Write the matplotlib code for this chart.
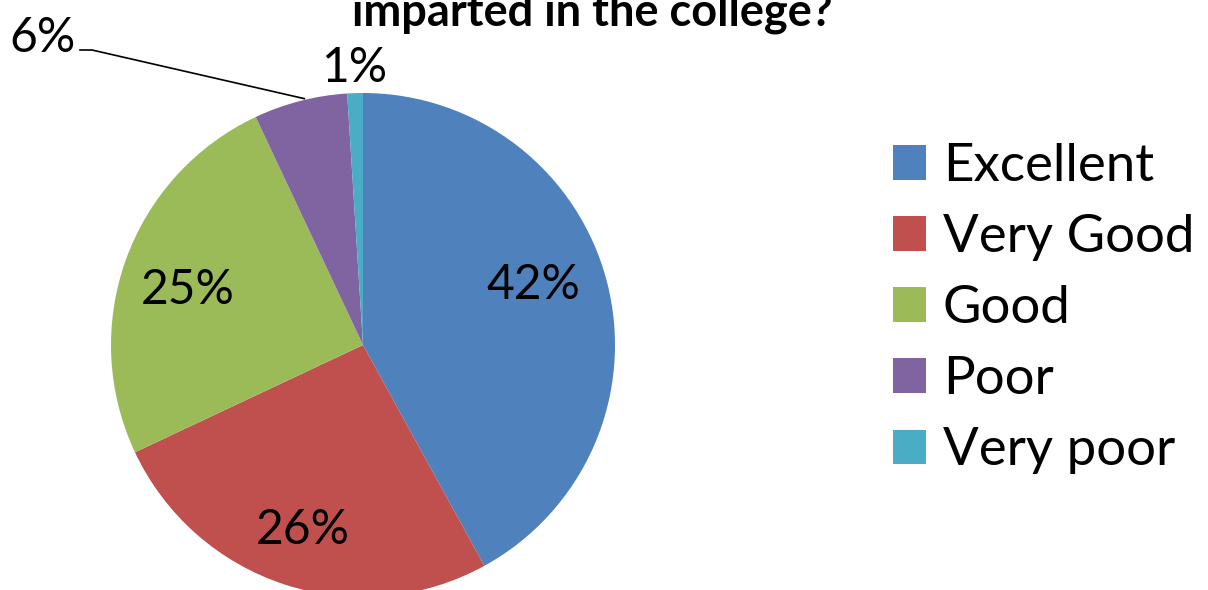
import numpy as np
import matplotlib
matplotlib.use("Agg")
import matplotlib.pyplot as plt
from matplotlib.patches import Patch

categories = ["Excellent", "Very Good", "Good", "Poor", "Very poor"]
shares = [42, 26, 25, 6, 1]
pct_labels = ["42%", "26%", "25%", "6%", "1%"]
colors = ["#4F81BD", "#C0504D", "#9BBB59", "#8064A2", "#4BACC6"]
title = "imparted in the college?"

plt.rcParams["font.family"] = ["Lato", "DejaVu Sans"]

W, H = 1208, 590
fig = plt.figure(figsize=(W / 100, H / 100), dpi=100)
ax = fig.add_axes([0, 0, 1, 1])

cx, cy, r = 363, H - 345, 252
wedges, _ = ax.pie(shares, colors=colors, startangle=90, counterclock=False,
                   center=(cx, cy), radius=r, frame=True,
                   wedgeprops=dict(linewidth=0))
ax.set_xlim(0, W)
ax.set_ylim(0, H)
ax.set_aspect("equal")
ax.axis("off")

# label placement: (radius factor, angle shift) per slice, Excel-like
label_pos = [(0.716, 5.0), (0.773, 0.0), (0.73, 2.4), None, (1.10, 0.0)]
cum = np.cumsum([0] + shares)
for i, txt in enumerate(pct_labels):
    mid = 90 - 360 * (cum[i] + cum[i + 1]) / 2 / 100
    if label_pos[i] is None:
        continue
    f, shift = label_pos[i]
    a = np.deg2rad(mid + shift)
    ax.text(cx + f * r * np.cos(a), cy + f * r * np.sin(a), txt,
            ha="center", va="center", fontsize=34.5, color="black")

# 6% label outside with leader line
mid = np.deg2rad(90 - 360 * (cum[3] + cum[4]) / 2 / 100 - 1)
ex, ey = cx + 1.005 * r * np.cos(mid), cy + 1.005 * r * np.sin(mid)
ax.plot([ex, 92, 80], [ey, H - 50, H - 50], color="black", lw=1.2)
ax.text(42, H - 38, pct_labels[3], ha="center", va="center", fontsize=34.5)

ax.text(592, H - 25, title, ha="center", va="baseline",
        fontsize=32.5, fontweight="bold")

handles = [Patch(facecolor=c, edgecolor="none") for c in colors]
ax.legend(handles, categories, loc="upper left", bbox_to_anchor=(893 / W, 1 - 143 / H),
          frameon=False, fontsize=38, handlelength=0.625, handleheight=0.625,
          handletextpad=0.32, labelspacing=0.456, borderaxespad=0, borderpad=0)

fig.savefig("out.png", dpi=100)
